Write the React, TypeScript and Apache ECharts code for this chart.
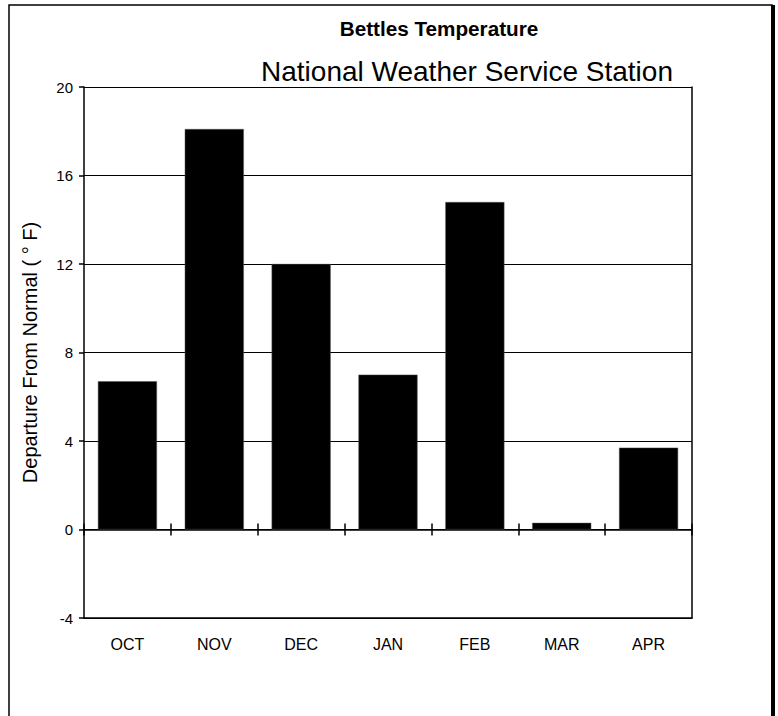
import React, { useEffect, useRef } from "react";
import * as echarts from "echarts";

const months = ["OCT", "NOV", "DEC", "JAN", "FEB", "MAR", "APR"];
const departures = [6.7, 18.1, 12.0, 7.0, 14.8, 0.3, 3.7];
const yMin = -4;
const yMax = 20;
const yStep = 4;
const titleText = "Bettles Temperature";
const subtitleText = "National Weather Service Station";
const yName = "Departure From Normal ( \u00B0 F)";

const FONT = "'Liberation Sans', Arial, sans-serif";

export default function App() {
  const ref = useRef<HTMLDivElement>(null);
  useEffect(() => {
    if (!ref.current) return;
    const chart = echarts.init(ref.current, null, { renderer: "svg" });
    const hiddenCat = {
      type: "category",
      data: months,
      gridIndex: 0,
      position: "bottom",
      boundaryGap: true,
      axisLabel: { show: false },
      splitLine: { show: false },
    };
    chart.setOption({
      animation: false,
      backgroundColor: "#ffffff",
      textStyle: { fontFamily: FONT },
      title: [
        {
          text: titleText,
          left: 434,
          top: 13,
          textAlign: "center",
          textStyle: { fontFamily: FONT, fontWeight: "bold", fontSize: 20.7, color: "#000" },
        },
        {
          text: subtitleText,
          left: 462,
          top: 52,
          textAlign: "center",
          textStyle: { fontFamily: FONT, fontWeight: "normal", fontSize: 28, color: "#000" },
        },
      ],
      graphic: [
        {
          type: "rect",
          shape: { x: 9, y: 5, width: 763, height: 730 },
          style: { fill: "none", stroke: "#000", lineWidth: 1.5 },
          silent: true,
        },
        {
          type: "line",
          shape: { x1: 773, y1: 5, x2: 773, y2: 730 },
          style: { stroke: "#000", lineWidth: 4 },
          silent: true,
        },
      ],
      grid: {
        left: 84,
        right: 86,
        top: 87,
        bottom: 98,
        containLabel: false,
        outerBoundsMode: "none",
      },
      xAxis: [
        {
          type: "category",
          data: months,
          position: "bottom",
          boundaryGap: true,
          axisLine: { onZero: false, lineStyle: { color: "#000", width: 1.5 } },
          axisTick: { show: false },
          axisLabel: { color: "#000", fontSize: 16, fontFamily: FONT, margin: 18 },
          splitLine: { show: false },
        },
        {
          ...hiddenCat,
          axisLine: { show: true, onZero: true, onZeroAxisIndex: 0, lineStyle: { color: "#000", width: 1.5 } },
          axisTick: { show: true, inside: true, length: 6, alignWithLabel: false, lineStyle: { color: "#000", width: 1.5 } },
        },
        {
          ...hiddenCat,
          axisLine: { show: false, onZero: true, onZeroAxisIndex: 1 },
          axisTick: { show: true, inside: false, length: 6, alignWithLabel: false, lineStyle: { color: "#000", width: 1.5 } },
        },
      ],
      yAxis: [
        {
          type: "value",
          position: "left",
          min: yMin,
          max: yMax,
          interval: yStep,
          name: yName,
          nameLocation: "middle",
          nameGap: 44,
          nameRotate: 90,
          nameTextStyle: { color: "#000", fontSize: 20, fontFamily: FONT },
          axisLine: { show: true, onZero: false, lineStyle: { color: "#000", width: 1.5 } },
          axisTick: { show: true, inside: false, length: 5, lineStyle: { color: "#000", width: 1.5 } },
          axisLabel: { color: "#000", fontSize: 15, fontFamily: FONT, margin: 11 },
          splitLine: { show: true, lineStyle: { color: "#000", width: 1 } },
        },
        {
          type: "value",
          position: "right",
          min: yMin,
          max: yMax,
          interval: yStep,
          axisLine: { show: true, onZero: false, lineStyle: { color: "#000", width: 1.5 } },
          axisTick: { show: false },
          axisLabel: { show: false },
          splitLine: { show: false },
        },
      ],
      series: [
        {
          type: "bar",
          data: departures,
          xAxisIndex: 0,
          yAxisIndex: 0,
          barWidth: "68%",
          itemStyle: { color: "#000", borderColor: "#555", borderWidth: 0.5 },
          z: 1,
        },
      ],
    });
    return () => chart.dispose();
  }, []);
  return (
    <div
      ref={ref}
      style={{ position: "absolute", left: 0, top: 0, width: 778, height: 716 }}
    />
  );
}
